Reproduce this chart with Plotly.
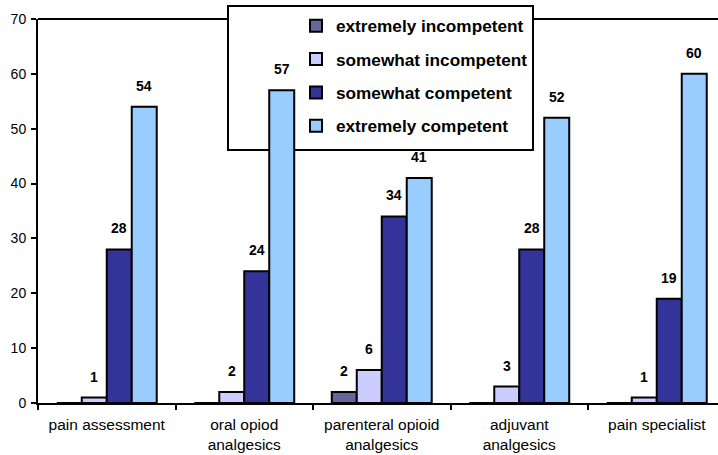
import plotly.graph_objects as go

# Self-rated competence by topic (percent of respondents)
categories = [
    "pain assessment",
    "oral opiod<br>analgesics",
    "parenteral opioid<br>analgesics",
    "adjuvant<br>analgesics",
    "pain specialist",
]
series_names = [
    "extremely incompetent",
    "somewhat incompetent",
    "somewhat competent",
    "extremely competent",
]
extremely_incompetent = [0, 0, 2, 0, 0]
somewhat_incompetent = [1, 2, 6, 3, 1]
somewhat_competent = [28, 24, 34, 28, 19]
extremely_competent = [54, 57, 41, 52, 60]
y_ticks = [0, 10, 20, 30, 40, 50, 60, 70]

series_values = [
    extremely_incompetent,
    somewhat_incompetent,
    somewhat_competent,
    extremely_competent,
]
colors = ["#666699", "#CCCCFF", "#333399", "#99CCFF"]

FONT = "Arial, Liberation Sans, sans-serif"
BARGAP = 0.273
n_series = len(series_values)
bar_w = (1 - BARGAP) / n_series

fig = go.Figure()
for name, vals, col in zip(series_names, series_values, colors):
    fig.add_trace(go.Bar(
        x=categories,
        y=vals,
        name=name,
        legendgroup=name,
        marker=dict(color=col, line=dict(color="black", width=2)),
    ))

# value labels above each non-zero bar
annotations = []
for k, vals in enumerate(series_values):
    offset = (k - (n_series - 1) / 2) * bar_w
    for i, v in enumerate(vals):
        if v > 0:
            annotations.append(dict(
                x=i + offset, y=v, xref="x", yref="y",
                text=str(v), showarrow=False,
                yanchor="bottom", yshift=11,
                font=dict(family=FONT, size=14, color="black", weight="bold"),
            ))

W, H = 718, 455
ML, MT, MB = 38, 19, 52
cat_px = 137.5
plot_w = W - ML
plot_h = H - MT - MB
x_max = -0.5 + plot_w / cat_px


def px_x(p):
    return (p - ML) / plot_w


def px_y(p):
    return (H - MB - p) / plot_h


# legend frame sits behind the bars; top frame line of the plot runs under it
shapes = [
    dict(type="line", xref="paper", yref="paper", x0=0, x1=1, y0=1, y1=1,
         line=dict(color="black", width=2), layer="below"),
    dict(type="rect", xref="paper", yref="paper",
         x0=px_x(228), x1=px_x(533), y0=px_y(150), y1=px_y(6),
         fillcolor="white", line=dict(color="black", width=2), layer="below"),
]

fig.update_layout(
    width=W, height=H,
    margin=dict(l=ML, r=0, t=MT, b=MB),
    paper_bgcolor="white", plot_bgcolor="white",
    barmode="group", bargap=BARGAP, bargroupgap=0,
    font=dict(family=FONT, color="black"),
    annotations=annotations,
    shapes=shapes,
    showlegend=True,
    legend=dict(
        x=px_x(228), xanchor="left",
        y=px_y(6), yanchor="top",
        bgcolor="rgba(0,0,0,0)", bordercolor="rgba(0,0,0,0)", borderwidth=2,
        font=dict(family=FONT, size=17.2, color="black", weight="bold"),
        traceorder="grouped", tracegroupgap=8,
        indentation=66,
    ),
    xaxis=dict(
        type="category", range=[-0.5, x_max],
        showline=True, linecolor="black", linewidth=2,
        ticks="outside", tickson="boundaries", ticklen=5, tickwidth=2,
        tickcolor="black", showgrid=False,
        tickfont=dict(family=FONT, size=15.5, color="black"),
        ticklabelstandoff=6,
    ),
    yaxis=dict(
        range=[0, 70], tickvals=y_ticks,
        showline=True, linecolor="black", linewidth=2,
        ticks="outside", ticklen=5, tickwidth=2, tickcolor="black",
        showgrid=False, zeroline=False,
        tickfont=dict(family=FONT, size=14, color="black"),
        ticklabelstandoff=2,
    ),
)

fig.write_html("out.html")
